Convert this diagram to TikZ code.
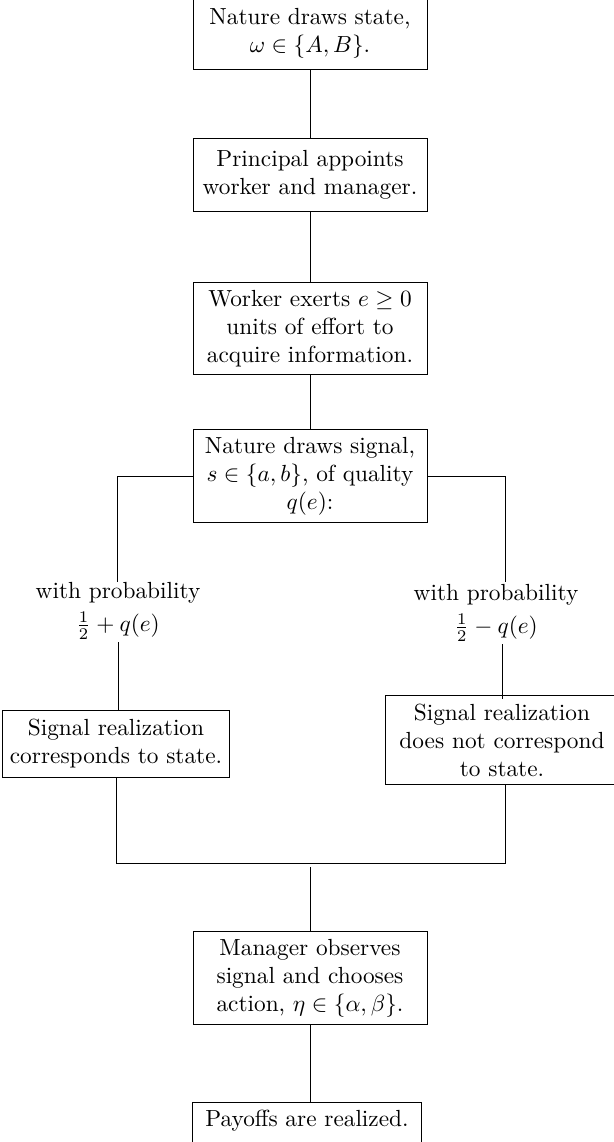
\documentclass[tikz,border=0pt]{standalone}
\usepackage{amsmath}
\tikzset{
  stage/.style={draw, line width=0.4pt, align=center, minimum width=100.4pt,
    minimum height=31pt, inner sep=3.33pt},
  prob/.style={align=center, inner sep=1pt},
  link/.style={line width=0.4pt},
}
\begin{document}
\begin{tikzpicture}[x=0.429pt, y=-0.429pt]
\useasboundingbox (0,0) rectangle (613,1142);

% main sequence of stages
\node[stage] (state)   at (310,33)    {Nature draws state,\\ $\omega\in\{A,B\}$.};
\node[stage] (appoint) at (310,175)   {Principal appoints\\ worker and manager.};
\node[stage] (effort)  at (310,328.5) {Worker exerts $e\geq 0$\\ units of effort to\\ acquire information.};
\node[stage] (signal)  at (310,476)   {Nature draws signal,\\ $s\in\{a,b\}$, of quality\\ $q(e)$:};

% the two branches
\node[prob] (pplus)  at (118,611) {with probability\\[2pt] $\frac{1}{2}+q(e)$};
\node[prob] (pminus) at (496,613) {with probability\\[2pt] $\frac{1}{2}-q(e)$};
\node[stage, minimum width=0pt, minimum height=29pt] (match) at (116,744)
  {Signal realization\\ corresponds to state.};
\node[stage] (mismatch) at (502,740) {Signal realization\\ does not correspond\\ to state.};

% closing stages
\node[stage] (choose) at (310,978) {Manager observes\\ signal and chooses\\ action, $\eta\in\{\alpha,\beta\}$.};
\node[stage, minimum width=98.2pt, minimum height=0pt, anchor=north, text depth=4pt]
  (payoff) at (307,1102) {Payoffs are realized.};

% free ends of connectors
\coordinate (rtop)  at (505,582);
\coordinate (ltop)  at (117.6,582);
\coordinate (join)  at (505,863);
\coordinate (merge) at (310,867);

\draw[link] (state.south) -- (appoint.north);
\draw[link] (appoint.south) -- (effort.north);
\draw[link] (effort.south) -- (signal.north);
\draw[link] (signal.west) -| (ltop);
\draw[link] (signal.east) -| (rtop);
\draw[link] (pplus.south) -- (pplus.south |- match.north);
\draw[link] (pminus.south -| mismatch.north) -- ([yshift=-1.7pt]mismatch.north);
\draw[link] (match.south) |- (join) -- (join |- mismatch.south);
\draw[link] (merge) -- (choose.north);
\draw[link] (choose.south) -- (choose.south |- payoff.north);
\end{tikzpicture}
\end{document}
